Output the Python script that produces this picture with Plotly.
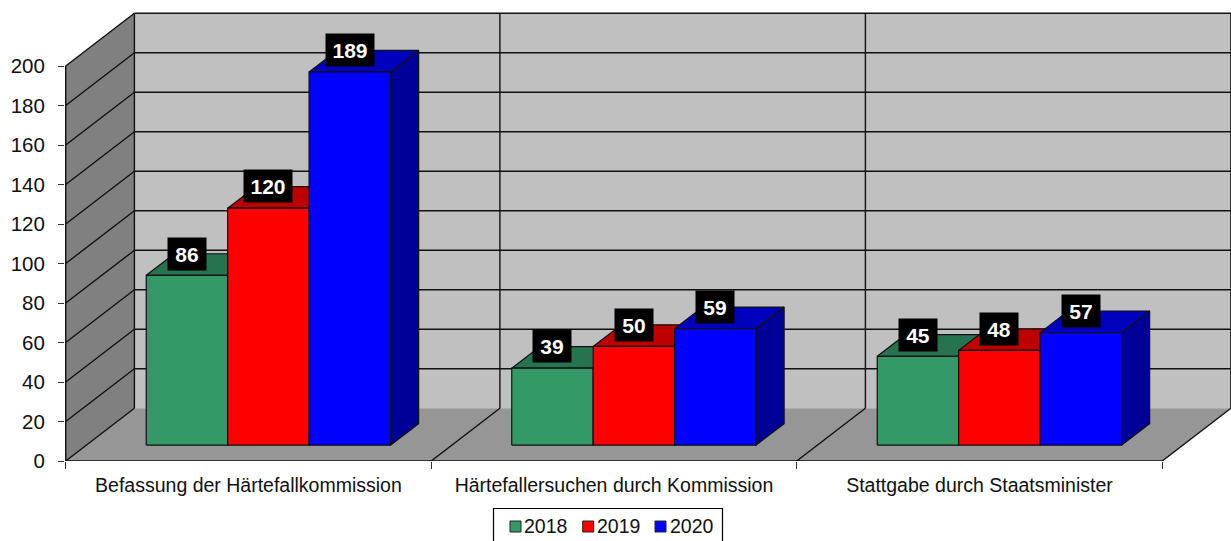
import plotly.graph_objects as go

categories = ["Befassung der Härtefallkommission", "Härtefallersuchen durch Kommission", "Stattgabe durch Staatsminister"]
years = ["2018", "2019", "2020"]
values_2018 = [86, 39, 45]
values_2019 = [120, 50, 48]
values_2020 = [189, 59, 57]
series = [values_2018, values_2019, values_2020]
front_colors = ["#339966", "#FF0000", "#0000FF"]
top_colors = ["#267350", "#BF0000", "#0000BF"]
side_colors = ["#1A4D33", "#800000", "#000099"]
y_ticks = list(range(0, 201, 20))

FONT = "Liberation Sans, Arial, sans-serif"
W, H = 1231, 541
ML, MR, MT, MB = 65, 0, 10, 80
PW, PH = W - ML - MR, H - MT - MB
XS, YS = 365.5, 1.975          # px per category / px per value
X_PAD = 0.7 / XS               # the axis sits a fraction of a pixel inside the plot area
DX, DY = 68.7 / XS, 52.7 / YS  # floor depth in axis units
BAR_W = 81.4 / XS
GAP = (1 - 3 * BAR_W) / 2 - 0.7 / XS
F0, F1 = 0.30, 0.41            # bar front offset, bar depth as fraction of floor
LINE = "#111111"

fig = go.Figure()


def poly(xs, ys, fill, line=LINE, width=1.2):
    fig.add_trace(go.Scatter(x=xs + xs[:1], y=ys + ys[:1], mode="lines", fill="toself",
                             fillcolor=fill, line=dict(color=line, width=width),
                             hoverinfo="skip", showlegend=False, cliponaxis=False))


def lines(segments, width=1.4, color=LINE):
    xs, ys = [], []
    for (x0, y0), (x1, y1) in segments:
        xs += [x0, x1, None]
        ys += [y0, y1, None]
    fig.add_trace(go.Scatter(x=xs, y=ys, mode="lines", line=dict(color=color, width=width),
                             hoverinfo="skip", showlegend=False, cliponaxis=False))


n = len(categories)
top = y_ticks[-1]
# walls and floor
poly([DX, n + DX, n + DX, DX], [DY, DY, top + DY, top + DY], "#C0C0C0", line="#C0C0C0", width=0)
poly([0, DX, DX, 0], [0, DY, top + DY, top], "#808080", line="#808080", width=0)
poly([0, n, n + DX, DX], [0, 0, DY, DY], "#969696", line="#969696", width=0)

segs = []
for v in y_ticks:
    segs.append(((0, v), (DX, v + DY)))
    if v > 0:
        segs.append(((DX, v + DY), (n + DX, v + DY)))
for i in range(n + 1):
    segs.append(((i + DX, DY), (i + DX, top + DY)))
    if i > 0:
        segs.append(((i, 0), (i + DX, DY)))
segs.append(((0, 0), (0, top)))
segs.append(((0, 0), (n, 0)))
lines(segs)

# bars
annotations = []
base = F0 * DY
dx1, dy1 = F1 * DX, F1 * DY
for c in range(n):
    for s, vals in enumerate(series):
        x0 = c + F0 * DX + GAP + s * BAR_W
        x1 = x0 + BAR_W
        y1 = base + vals[c]
        poly([x1, x1 + dx1, x1 + dx1, x1], [base, base + dy1, y1 + dy1, y1], side_colors[s])
        poly([x0, x1, x1 + dx1, x0 + dx1], [y1, y1, y1 + dy1, y1 + dy1], top_colors[s])
        poly([x0, x1, x1, x0], [base, base, y1, y1], front_colors[s])
for c in range(n):
    for s, vals in enumerate(series):
        x0 = c + F0 * DX + GAP + s * BAR_W
        label = str(vals[c])
        annotations.append(dict(x=x0 + BAR_W / 2, y=base + vals[c], xref="x", yref="y", text=label,
                                showarrow=False, yshift=21.8, bgcolor="#000000", borderpad=0,
                                width=48 if len(label) > 2 else 38, height=32,
                                font=dict(family=FONT, size=21, color="#FFFFFF", weight="bold")))


def px_x(p):
    return (p - ML) / PW


def px_y(p):
    return (H - MB - p) / PH


shapes = [dict(type="rect", xref="paper", yref="paper", x0=px_x(493.5), x1=px_x(722.5),
               y0=px_y(545), y1=px_y(508.5), fillcolor="#FFFFFF", line=dict(color="#000000", width=1.2))]
swatch_x = [510, 582.7, 655]
label_x = [522, 595, 668]
for i, yr in enumerate(years):
    shapes.append(dict(type="rect", xref="paper", yref="paper", x0=px_x(swatch_x[i]), x1=px_x(swatch_x[i] + 11),
                       y0=px_y(532), y1=px_y(521), fillcolor=front_colors[i], line=dict(color="#222222", width=1)))
    annotations.append(dict(x=px_x(label_x[i]), y=px_y(526), xref="paper", yref="paper", text=yr, showarrow=False,
                            xanchor="left", yanchor="middle", font=dict(family=FONT, size=19.5, color="#111111")))

fig.update_layout(
    width=W, height=H, margin=dict(l=ML, r=MR, t=MT, b=MB, autoexpand=False),
    paper_bgcolor="#FFFFFF", plot_bgcolor="#FFFFFF", showlegend=False,
    font=dict(family=FONT, color="#111111"),
    xaxis=dict(range=[-X_PAD, PW / XS - X_PAD], tickmode="array", tickvals=[i + 0.5 for i in range(n)], ticktext=categories,
               ticks="", showgrid=False, zeroline=False, showline=False, tickfont=dict(size=19.5), ticklabelstandoff=10,
               minor=dict(tickmode="array", tickvals=list(range(n + 1)), ticks="outside", ticklen=7, tickcolor="#333333",
                          tickwidth=1, showgrid=False)),
    yaxis=dict(range=[0, PH / YS], tickmode="array", tickvals=y_ticks, ticks="outside", ticklen=6, tickcolor="#333333",
               tickwidth=1, showgrid=False, zeroline=False, showline=False, tickfont=dict(size=20.5), ticklabelstandoff=9),
    annotations=annotations, shapes=shapes,
)

fig.write_html("out.html", config={"displayModeBar": False}, post_script="document.body.style.margin='0';")
